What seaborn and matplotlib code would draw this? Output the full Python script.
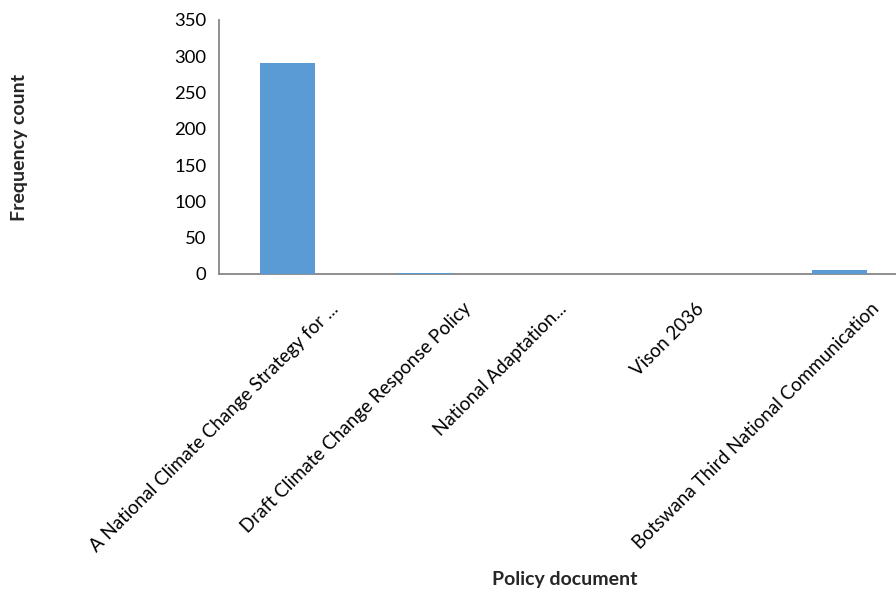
import matplotlib
matplotlib.use("Agg")
import matplotlib.pyplot as plt
import matplotlib.transforms as mtransforms
import seaborn as sns
import pandas as pd

# ---------------------------------------------------------------------------
# Chart data
# ---------------------------------------------------------------------------
documents = [
    "A National Climate Change Strategy for ...",
    "Draft Climate Change Response Policy",
    "National Adaptation...",
    "Vison 2036",
    "Botswana Third National Communication",
]
counts = [291, 2, 0, 0, 5]
y_ticks = [0, 50, 100, 150, 200, 250, 300, 350]

# sideways shift (pixels) of each rotated label, as in the original
label_shift = [48, 43, 0, 0, 37]

BAR_COLOR = "#5B9BD5"
AXIS_COLOR = "#868686"


def plotBarChart(df):
    sns.set_style("white")
    plt.rcParams["font.family"] = ["Lato", "DejaVu Sans"]

    fig = plt.figure(figsize=(8.96, 5.94), dpi=100)
    ax = fig.add_axes([219 / 896, 1 - 274 / 594, 689 / 896, 254 / 594])

    sns.barplot(data=df, x="document", y="count", color=BAR_COLOR,
                width=0.4, saturation=1, ax=ax)
    # bars sit on top of the axis line, like the original
    for bar in ax.patches:
        bar.set_zorder(3)
        bar.set_linewidth(0)

    ax.set_xlim(-0.5, 4.5)
    ax.set_ylim(0, 350)
    ax.set_yticks(y_ticks)
    ax.set_xlabel("")
    ax.set_ylabel("")

    for side in ["top", "right"]:
        ax.spines[side].set_visible(False)
    for side in ["left", "bottom"]:
        ax.spines[side].set_color(AXIS_COLOR)
        ax.spines[side].set_linewidth(1.3)

    ax.tick_params(axis="y", length=0, pad=9, labelsize=13.3, labelcolor="black")
    ax.tick_params(axis="x", length=0, pad=23, labelsize=13.5, labelcolor="black")

    ax.set_xticks(range(len(documents)))
    ax.set_xticklabels(documents, rotation=45, ha="right", va="center",
                       rotation_mode="anchor")
    for lbl, dx in zip(ax.get_xticklabels(), label_shift):
        offset = mtransforms.ScaledTranslation(dx / 100, 0, fig.dpi_scale_trans)
        lbl.set_transform(lbl.get_transform() + offset)

    fig.text(20 / 896, 1 - 147 / 594, "Frequency count", rotation=90,
             ha="center", va="center", fontsize=14, fontweight="bold")
    fig.text(565 / 896, 1 - 580 / 594, "Policy document",
             ha="center", va="center", fontsize=14, fontweight="bold")

    fig.savefig("out.png", dpi=100)


def main():
    df = pd.DataFrame({"document": documents, "count": counts})
    plotBarChart(df)


if __name__ == "__main__":
    main()
